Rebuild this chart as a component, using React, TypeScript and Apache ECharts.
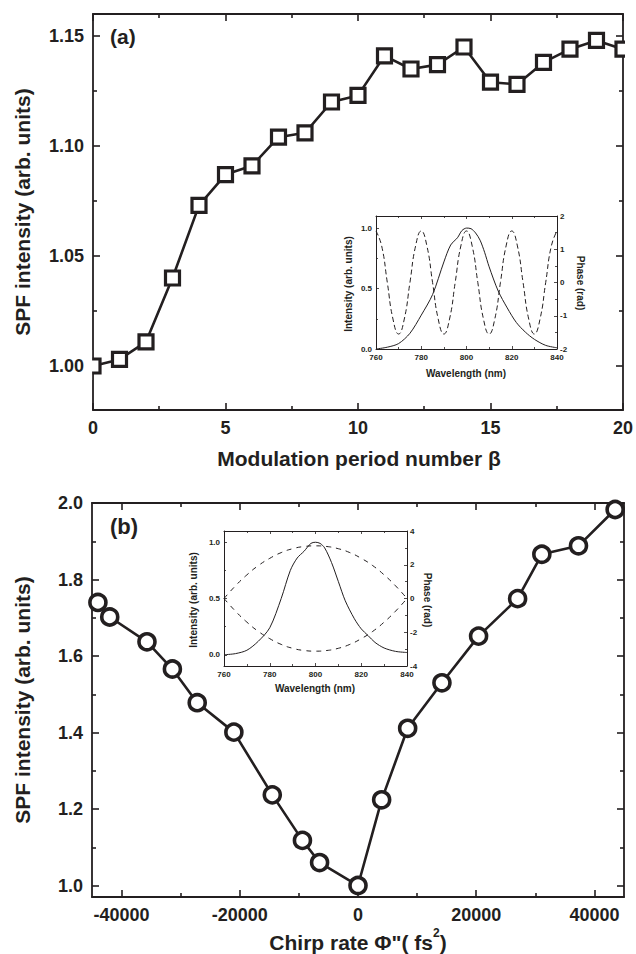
import React, { useEffect, useRef } from "react";
import * as echarts from "echarts";

// ---------- data ----------
const betaValues = [0, 1, 2, 3, 4, 5, 6, 7, 8, 9, 10, 11, 12, 13, 14, 15, 16, 17, 18, 19, 20];
const spfA = [1.000, 1.003, 1.011, 1.040, 1.073, 1.087, 1.091, 1.104, 1.106, 1.120, 1.123, 1.141, 1.135, 1.137, 1.145, 1.129, 1.128, 1.138, 1.144, 1.148, 1.144];

const chirpValues = [-44000, -42000, -35700, -31400, -27200, -21000, -14500, -9400, -6500, 0, 4000, 8400, 14200, 20400, 27000, 31100, 37300, 43500];
const spfB = [1.740, 1.702, 1.637, 1.566, 1.478, 1.401, 1.237, 1.118, 1.060, 1.000, 1.224, 1.411, 1.530, 1.652, 1.750, 1.866, 1.888, 1.983];

// inset (a): spectrum intensity and cosine phase
const insetAWl = [760, 765, 770, 775, 780, 785, 790, 793, 796, 798, 800, 802, 804, 806, 808, 810, 814, 818, 822, 826, 830, 835, 840];
const insetAInt = [0.00, 0.015, 0.045, 0.13, 0.28, 0.45, 0.72, 0.86, 0.92, 0.98, 1.00, 0.995, 0.96, 0.90, 0.80, 0.68, 0.48, 0.34, 0.22, 0.14, 0.08, 0.03, 0.01];
const insetAPhaseWl = [760, 762.5, 765, 767.5, 770, 772.5, 775, 777.5, 780, 782.5, 785, 787.5, 790, 792.5, 795, 797.5, 800, 802.5, 805, 807.5, 810, 812.5, 815, 817.5, 820, 822.5, 825, 827.5, 830, 832.5, 835, 837.5, 840];
const insetAPhase = [1.55, 1.10, 0, -1.10, -1.55, -1.10, 0, 1.10, 1.55, 1.10, 0, -1.10, -1.55, -1.10, 0, 1.10, 1.55, 1.10, 0, -1.10, -1.55, -1.10, 0, 1.10, 1.55, 1.10, 0, -1.10, -1.55, -1.10, 0, 1.10, 1.55];

// inset (b): spectrum intensity and quadratic phase (two signs)
const insetBWl = [760, 765, 770, 775, 780, 785, 789, 792, 795, 798, 800, 802, 804, 807, 810, 813, 817, 820, 823, 826, 830, 835, 840];
const insetBInt = [0.00, 0.01, 0.04, 0.12, 0.24, 0.50, 0.75, 0.86, 0.92, 0.99, 1.00, 0.99, 0.95, 0.82, 0.65, 0.48, 0.32, 0.23, 0.17, 0.11, 0.06, 0.03, 0.02];
const insetBPhaseWl = [760, 765, 770, 775, 780, 785, 790, 795, 800, 805, 810, 815, 820, 825, 830, 835, 840];
const insetBPhaseUp = [0, 0.75, 1.40, 1.95, 2.38, 2.72, 2.95, 3.08, 3.12, 3.08, 2.95, 2.72, 2.38, 1.95, 1.40, 0.75, 0];
const insetBPhaseDown = [0, -0.75, -1.40, -1.95, -2.38, -2.72, -2.95, -3.08, -3.12, -3.08, -2.95, -2.72, -2.38, -1.95, -1.40, -0.75, 0];

// tick values
const aXMajor = [0, 5, 10, 15, 20];
const aXMinor = [2.5, 7.5, 12.5, 17.5];
const aYMajor = [1.0, 1.05, 1.1, 1.15];
const aYMinor = [1.025, 1.075, 1.125];
const bXMajor = [-40000, -20000, 0, 20000, 40000];
const bXMinor = [-30000, -10000, 10000, 30000];
const bYMajor = [1.0, 1.2, 1.4, 1.6, 1.8, 2.0];
const bYMinor = [1.1, 1.3, 1.5, 1.7, 1.9];
const wlMajor = [760, 780, 800, 820, 840];
const wlMinor = [770, 790, 810, 830];
const intMajor = [0, 0.5, 1.0];
const intMinor = [0.25, 0.75];
const phaseAMajor = [-2, -1, 0, 1, 2];
const phaseAMinor = [-1.5, -0.5, 0.5, 1.5];
const phaseBMajor = [-4, -2, 0, 2, 4];
const phaseBMinor = [-3, -1, 1, 3];

const INK = "#231f20";
const FONT = '"Liberation Sans", Arial, Helvetica, sans-serif';

function zip(xs: number[], ys: number[]) {
  return xs.map((x, i) => [x, ys[i]]);
}

export default function App() {
  const ref = useRef<HTMLDivElement>(null);
  useEffect(() => {
    if (!ref.current) return;
    const chart = echarts.init(ref.current, undefined, { renderer: "svg" });

    const xAxis: any[] = [];
    const yAxis: any[] = [];

    function ax(g: number, position: string, range: any, ticks: number[], len: number, line: boolean, labels: number[] | null, fmt: any, st: any) {
      return {
        type: "value",
        gridIndex: g,
        position,
        min: range.min,
        max: range.max,
        splitLine: { show: false },
        axisLine: { show: line, onZero: false, lineStyle: { color: INK, width: st.lineWidth } },
        axisTick: {
          show: ticks.length > 0,
          inside: true,
          length: len,
          customValues: ticks,
          lineStyle: { color: INK, width: st.tickWidth },
        },
        axisLabel: labels
          ? {
              show: true,
              customValues: labels,
              formatter: fmt,
              margin: st.margin,
              fontSize: st.fontSize,
              fontWeight: "bold",
              fontFamily: FONT,
              color: INK,
            }
          : { show: false },
      };
    }

    function frame(g: number, s: any) {
      const xi = xAxis.length;
      xAxis.push(ax(g, "bottom", s.x, s.x.major, s.majorLen, true, s.x.major, s.x.fmt, s));
      xAxis.push(ax(g, "bottom", s.x, s.x.minor, s.minorLen, false, null, null, s));
      xAxis.push(ax(g, "top", s.x, s.x.major, s.majorLen, true, null, null, s));
      xAxis.push(ax(g, "top", s.x, s.x.minor, s.minorLen, false, null, null, s));
      const yi = yAxis.length;
      yAxis.push(ax(g, "left", s.y, s.y.major, s.majorLen, true, s.y.major, s.y.fmt, s));
      yAxis.push(ax(g, "left", s.y, s.y.minor, s.minorLen, false, null, null, s));
      const r = s.r || s.y;
      const ri = yAxis.length;
      yAxis.push(ax(g, "right", r, r.major, s.majorLen, true, s.r ? r.major : null, r.fmt, { ...s, margin: s.rMargin ?? s.margin }));
      yAxis.push(ax(g, "right", r, r.minor, s.minorLen, false, null, null, s));
      return { x: xi, y: yi, r: ri };
    }

    const mainStyle = { lineWidth: 1.8, tickWidth: 1.6, majorLen: 7, minorLen: 4, fontSize: 18, margin: 9 };
    const insetStyle = { lineWidth: 1, tickWidth: 0.8, majorLen: 3, minorLen: 2, fontSize: 8, margin: 4, rMargin: 3 };

    const fA = frame(0, {
      ...mainStyle,
      x: { min: 0, max: 20, major: aXMajor, minor: aXMinor, fmt: (v: number) => String(v) },
      y: { min: 0.98, max: 1.16, major: aYMajor, minor: aYMinor, fmt: (v: number) => v.toFixed(2) },
    });
    const fAi = frame(1, {
      ...insetStyle,
      x: { min: 760, max: 840, major: wlMajor, minor: wlMinor, fmt: (v: number) => String(v) },
      y: { min: 0, max: 1.1, major: intMajor, minor: intMinor, fmt: (v: number) => v.toFixed(1) },
      r: { min: -2, max: 2, major: phaseAMajor, minor: phaseAMinor, fmt: (v: number) => String(v) },
    });
    const fB = frame(2, {
      ...mainStyle,
      x: { min: -45000, max: 45000, major: bXMajor, minor: bXMinor, fmt: (v: number) => String(v) },
      y: { min: 0.97, max: 2.0, major: bYMajor, minor: bYMinor, fmt: (v: number) => v.toFixed(1) },
    });
    const fBi = frame(3, {
      ...insetStyle,
      x: { min: 760, max: 840, major: wlMajor, minor: wlMinor, fmt: (v: number) => String(v) },
      y: { min: -0.1, max: 1.1, major: intMajor, minor: intMinor, fmt: (v: number) => v.toFixed(1) },
      r: { min: -4, max: 4, major: phaseBMajor, minor: phaseBMinor, fmt: (v: number) => String(v) },
    });

    const boldText = (x: number, y: number, text: string, size: number, rotation = 0, align = "center") => ({
      type: "text",
      x,
      y,
      rotation,
      z: 20,
      style: { text, font: `bold ${size}px ${FONT}`, fill: INK, align, verticalAlign: "middle" },
    });

    const option: any = {
      animation: false,
      backgroundColor: "#ffffff",
      grid: [
        { left: 93, top: 14, width: 531, height: 396 },
        { left: 376, top: 216, width: 181, height: 133 },
        { left: 92, top: 503, width: 532, height: 394 },
        { left: 224, top: 531, width: 183, height: 135 },
      ],
      xAxis,
      yAxis,
      series: [
        {
          type: "line",
          xAxisIndex: fA.x,
          yAxisIndex: fA.y,
          data: zip(betaValues, spfA),
          symbol: "rect",
          symbolSize: 14,
          itemStyle: { color: "#ffffff", borderColor: INK, borderWidth: 3.2 },
          lineStyle: { color: INK, width: 2.6 },
          z: 3,
        },
        {
          type: "line",
          xAxisIndex: fB.x,
          yAxisIndex: fB.y,
          data: zip(chirpValues, spfB),
          symbol: "circle",
          symbolSize: 16,
          itemStyle: { color: "#ffffff", borderColor: INK, borderWidth: 3.6 },
          lineStyle: { color: INK, width: 2.6 },
          z: 3,
        },
        {
          type: "line",
          xAxisIndex: fAi.x,
          yAxisIndex: fAi.y,
          data: zip(insetAWl, insetAInt),
          showSymbol: false,
          smooth: 0.3,
          lineStyle: { color: INK, width: 1 },
        },
        {
          type: "line",
          xAxisIndex: fAi.x,
          yAxisIndex: fAi.r,
          data: zip(insetAPhaseWl, insetAPhase),
          showSymbol: false,
          smooth: true,
          lineStyle: { color: INK, width: 1, type: [5, 3] },
        },
        {
          type: "line",
          xAxisIndex: fBi.x,
          yAxisIndex: fBi.y,
          data: zip(insetBWl, insetBInt),
          showSymbol: false,
          smooth: 0.3,
          lineStyle: { color: INK, width: 1 },
        },
        {
          type: "line",
          xAxisIndex: fBi.x,
          yAxisIndex: fBi.r,
          data: zip(insetBPhaseWl, insetBPhaseUp),
          showSymbol: false,
          smooth: true,
          lineStyle: { color: INK, width: 1, type: [5, 5] },
        },
        {
          type: "line",
          xAxisIndex: fBi.x,
          yAxisIndex: fBi.r,
          data: zip(insetBPhaseWl, insetBPhaseDown),
          showSymbol: false,
          smooth: true,
          lineStyle: { color: INK, width: 1, type: [5, 5] },
        },
      ],
      graphic: [
        // masks for markers overflowing the frame
        { type: "rect", z: 15, shape: { x: 84, y: 350, width: 8.1, height: 30 }, style: { fill: "#ffffff" } },
        { type: "rect", z: 15, shape: { x: 625, y: 14, width: 12, height: 395 }, style: { fill: "#ffffff" } },
        { type: "rect", z: 15, shape: { x: 625, y: 503, width: 12, height: 393 }, style: { fill: "#ffffff" } },
        boldText(22, 212, "SPF intensity (arb. units)", 21, Math.PI / 2),
        boldText(22, 700, "SPF intensity (arb. units)", 21, Math.PI / 2),
        boldText(359, 458, "Modulation period number β", 21),
        boldText(110, 36, "(a)", 21, 0, "left"),
        boldText(110, 526, "(b)", 22, 0, "left"),
        {
          type: "text",
          x: 358,
          y: 940,
          z: 20,
          style: {
            text: '{n|Chirp rate Φ"( fs}{s|2}{n|)}',
            align: "center",
            verticalAlign: "middle",
            fill: INK,
            rich: {
              n: { font: `bold 21px ${FONT}`, fill: INK, lineHeight: 26, verticalAlign: "bottom" },
              s: { font: `bold 12px ${FONT}`, fill: INK, lineHeight: 26, verticalAlign: "top" },
            },
          },
        },
        boldText(348, 284, "Intensity (arb. units)", 10, Math.PI / 2),
        boldText(580, 283, "Phase (rad)", 10, -Math.PI / 2),
        boldText(466, 373, "Wavelength (nm)", 10),
        boldText(193, 600, "Intensity (arb. units)", 10, Math.PI / 2),
        boldText(427, 600, "Phase (rad)", 10, -Math.PI / 2),
        boldText(315, 688, "Wavelength (nm)", 10),
      ],
    };

    chart.setOption(option);
    return () => chart.dispose();
  }, []);

  return (
    <div
      ref={ref}
      style={{ position: "fixed", left: 0, top: 0, width: 636, height: 954, background: "#fff" }}
    />
  );
}
